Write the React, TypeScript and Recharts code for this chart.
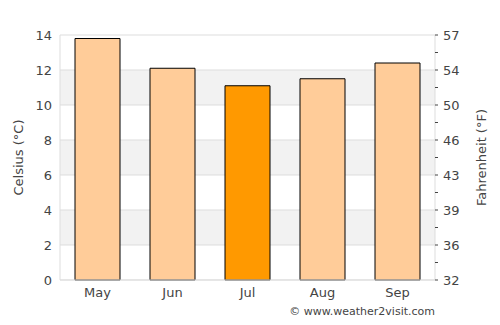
import { Bar, CartesianGrid, Cell, ComposedChart, Line, XAxis, YAxis } from "recharts";

const months = ["May", "Jun", "Jul", "Aug", "Sep"];
const celsius = [13.8, 12.1, 11.1, 11.5, 12.4];
const highlight = "Jul";
const leftTicks = [0, 2, 4, 6, 8, 10, 12, 14];
const rightTicks = [0, 1, 2, 3, 4, 5, 6, 7, 8, 9, 10, 11, 12, 13, 14];

const data = months.map((m, i) => ({ month: m, temp: celsius[i] }));

const TEXT = "#444";
const FONT = "'DejaVu Sans', sans-serif";

const toF = (c: number) => (c % 2 === 0 ? String(Math.round(c * 1.8 + 32)) : "");

export default function App() {
  return (
    <div style={{ position: "absolute", left: 0, top: 0, width: 500, height: 325, fontFamily: FONT, background: "#fff" }}>
      <ComposedChart
        width={500}
        height={325}
        data={data}
        margin={{ top: 35, right: 0, left: 0, bottom: 0 }}
        barCategoryGap="20%"
      >
        <CartesianGrid
          yAxisId="left"
          vertical={false}
          stroke="#dddddd"
          horizontalFill={["#ffffff", "#f2f2f2"]}
          fillOpacity={1}
        />
        <XAxis
          dataKey="month"
          height={45}
          tickLine={false}
          stroke="#dddddd"
          tick={{ fill: TEXT, fontSize: 13 }}
        />
        <YAxis
          yAxisId="left"
          width={60}
          domain={[0, 14]}
          ticks={leftTicks}
          tickLine={false}
          stroke="#dddddd"
          tick={{ fill: TEXT, fontSize: 13 }}
          label={{ value: "Celsius (°C)", angle: -90, position: "center", dx: -12, fill: TEXT, fontSize: 13 }}
        />
        <YAxis
          yAxisId="right"
          orientation="right"
          width={65}
          domain={[0, 14]}
          ticks={rightTicks}
          interval={0}
          tickSize={3}
          tickMargin={5}
          tickFormatter={toF}
          stroke="#dddddd"
          tickLine={{ stroke: TEXT }}
          tick={{ fill: TEXT, fontSize: 13 }}
          label={{ value: "Fahrenheit (°F)", angle: -90, position: "center", dx: 14, fill: TEXT, fontSize: 13 }}
        />
        <Bar yAxisId="left" dataKey="temp" stroke="#000" strokeWidth={1} isAnimationActive={false}>
          {data.map((d) => (
            <Cell key={d.month} fill={d.month === highlight ? "#ff9900" : "#ffcc99"} />
          ))}
        </Bar>
        <Line
          yAxisId="right"
          dataKey="temp"
          stroke="none"
          dot={false}
          activeDot={false}
          legendType="none"
          isAnimationActive={false}
        />
      </ComposedChart>
      <div style={{ position: "absolute", right: 65, top: 305, fontSize: 11, color: TEXT }}>
        © www.weather2visit.com
      </div>
    </div>
  );
}
